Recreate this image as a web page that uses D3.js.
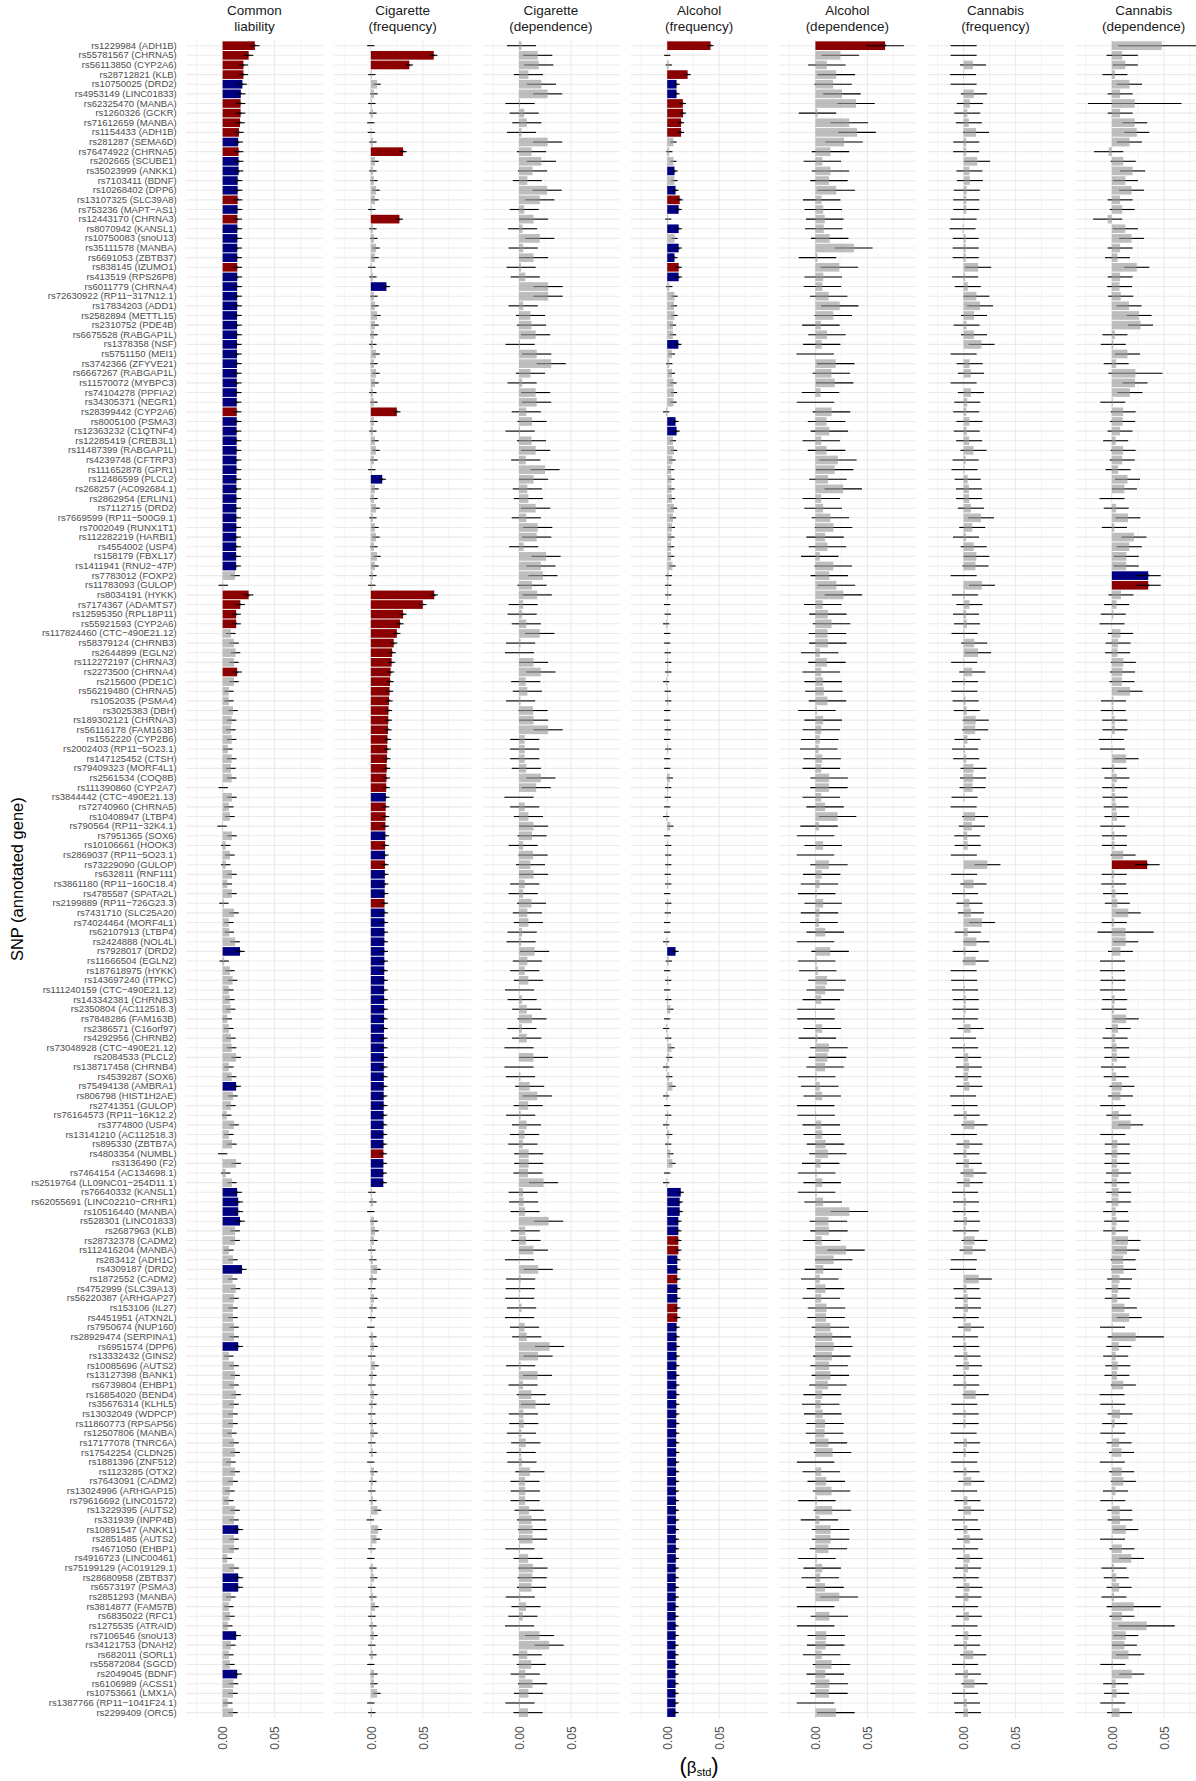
<!DOCTYPE html>
<html>
<head>
<meta charset="utf-8">
<script src="https://cdn.jsdelivr.net/npm/d3@7"></script>
<style>
  body { margin: 0; background: #fff; }
  text { font-family: "Liberation Sans", Arial, Helvetica, sans-serif; }
</style>
</head>
<body>
<div class="chart"></div>
<script>
// SNP labels, top to bottom
const snps = [
  "rs1229984 (ADH1B)", "rs55781567 (CHRNA5)", "rs56113850 (CYP2A6)", "rs28712821 (KLB)", "rs10750025 (DRD2)", "rs4953149 (LINC01833)", "rs62325470 (MANBA)", "rs1260326 (GCKR)", "rs71612659 (MANBA)", "rs1154433 (ADH1B)",
  "rs281287 (SEMA6D)", "rs76474922 (CHRNA5)", "rs202665 (SCUBE1)", "rs35023999 (ANKK1)", "rs7103411 (BDNF)", "rs10268402 (DPP6)", "rs13107325 (SLC39A8)", "rs753236 (MAPT−AS1)", "rs12443170 (CHRNA3)", "rs8070942 (KANSL1)",
  "rs10750083 (snoU13)", "rs35111578 (MANBA)", "rs6691053 (ZBTB37)", "rs838145 (IZUMO1)", "rs413519 (RPS26P8)", "rs6011779 (CHRNA4)", "rs72630922 (RP11−317N12.1)", "rs17834203 (ADD1)", "rs2582894 (METTL15)", "rs2310752 (PDE4B)",
  "rs6675528 (RABGAP1L)", "rs1378358 (NSF)", "rs5751150 (MEI1)", "rs3742366 (ZFYVE21)", "rs6667267 (RABGAP1L)", "rs11570072 (MYBPC3)", "rs74104278 (PPFIA2)", "rs34305371 (NEGR1)", "rs28399442 (CYP2A6)", "rs8005100 (PSMA3)",
  "rs12363232 (C1QTNF4)", "rs12285419 (CREB3L1)", "rs11487399 (RABGAP1L)", "rs4239748 (CFTRP3)", "rs111652878 (GPR1)", "rs12486599 (PLCL2)", "rs268257 (AC092684.1)", "rs2862954 (ERLIN1)", "rs7112715 (DRD2)", "rs7669599 (RP11−500G9.1)",
  "rs7002049 (RUNX1T1)", "rs112282219 (HARBI1)", "rs4554002 (USP4)", "rs158179 (FBXL17)", "rs1411941 (RNU2−47P)", "rs7783012 (FOXP2)", "rs11783093 (GULOP)", "rs8034191 (HYKK)", "rs7174367 (ADAMTS7)", "rs12595350 (RPL18P11)",
  "rs55921593 (CYP2A6)", "rs117824460 (CTC−490E21.12)", "rs58379124 (CHRNB3)", "rs2644899 (EGLN2)", "rs112272197 (CHRNA3)", "rs2273500 (CHRNA4)", "rs215600 (PDE1C)", "rs56219480 (CHRNA5)", "rs1052035 (PSMA4)", "rs3025383 (DBH)",
  "rs189302121 (CHRNA3)", "rs56116178 (FAM163B)", "rs1552220 (CYP2B6)", "rs2002403 (RP11−5O23.1)", "rs147125452 (CTSH)", "rs79409323 (MORF4L1)", "rs2561534 (COQ8B)", "rs111390860 (CYP2A7)", "rs3844442 (CTC−490E21.13)", "rs72740960 (CHRNA5)",
  "rs10408947 (LTBP4)", "rs790564 (RP11−32K4.1)", "rs7951365 (SOX6)", "rs10106661 (HOOK3)", "rs2869037 (RP11−5O23.1)", "rs73229090 (GULOP)", "rs632811 (RNF111)", "rs3861180 (RP11−160C18.4)", "rs4785587 (SPATA2L)", "rs2199889 (RP11−726G23.3)",
  "rs7431710 (SLC25A20)", "rs74024464 (MORF4L1)", "rs62107913 (LTBP4)", "rs2424888 (NOL4L)", "rs7928017 (DRD2)", "rs11666504 (EGLN2)", "rs187618975 (HYKK)", "rs143697240 (ITPKC)", "rs111240159 (CTC−490E21.12)", "rs143342381 (CHRNB3)",
  "rs2350804 (AC112518.3)", "rs7848286 (FAM163B)", "rs2386571 (C16orf97)", "rs4292956 (CHRNB2)", "rs73048928 (CTC−490E21.12)", "rs2084533 (PLCL2)", "rs138717458 (CHRNB4)", "rs4539287 (SOX6)", "rs75494138 (AMBRA1)", "rs806798 (HIST1H2AE)",
  "rs2741351 (GULOP)", "rs76164573 (RP11−16K12.2)", "rs3774800 (USP4)", "rs13141210 (AC112518.3)", "rs895330 (ZBTB7A)", "rs4803354 (NUMBL)", "rs3136490 (F2)", "rs7464154 (AC134698.1)", "rs2519764 (LL09NC01−254D11.1)", "rs76640332 (KANSL1)",
  "rs62055691 (LINC02210−CRHR1)", "rs10516440 (MANBA)", "rs528301 (LINC01833)", "rs2687963 (KLB)", "rs28732378 (CADM2)", "rs112416204 (MANBA)", "rs283412 (ADH1C)", "rs4309187 (DRD2)", "rs1872552 (CADM2)", "rs4752999 (SLC39A13)",
  "rs56220387 (ARHGAP27)", "rs153106 (IL27)", "rs4451951 (ATXN2L)", "rs7950674 (NUP160)", "rs28929474 (SERPINA1)", "rs6951574 (DPP6)", "rs13332432 (GINS2)", "rs10085696 (AUTS2)", "rs13127398 (BANK1)", "rs6739804 (EHBP1)",
  "rs16854020 (BEND4)", "rs35676314 (KLHL5)", "rs13032049 (WDPCP)", "rs11860773 (RPSAP56)", "rs12507806 (MANBA)", "rs17177078 (TNRC6A)", "rs17542254 (CLDN25)", "rs1881396 (ZNF512)", "rs1123285 (OTX2)", "rs7643091 (CADM2)",
  "rs13024996 (ARHGAP15)", "rs79616692 (LINC01572)", "rs13229395 (AUTS2)", "rs331939 (INPP4B)", "rs10891547 (ANKK1)", "rs2851485 (AUTS2)", "rs4671050 (EHBP1)", "rs4916723 (LINC00461)", "rs75199129 (AC019129.1)", "rs28680958 (ZBTB37)",
  "rs6573197 (PSMA3)", "rs2851293 (MANBA)", "rs3814877 (FAM57B)", "rs6835022 (RFC1)", "rs1275535 (ATRAID)", "rs7106546 (snoU13)", "rs34121753 (DNAH2)", "rs682011 (SORL1)", "rs55872084 (SGCD)", "rs2049045 (BDNF)",
  "rs6106989 (ACSS1)", "rs10753661 (LMX1A)", "rs1387766 (RP11−1041F24.1)", "rs2299409 (ORC5)"
];

// facet titles
const stripLines = [
  ["Common", "liability"], ["Cigarette", "(frequency)"], ["Cigarette", "(dependence)"],
  ["Alcohol", "(frequency)"], ["Alcohol", "(dependence)"], ["Cannabis", "(frequency)"], ["Cannabis", "(dependence)"]
];

// standardised betas, x 1000, one value per SNP
const commonLiability = [
  31, 25, 20, 20, 19, 17.5, 17.3, 17.3, 16.7, 15.7,
  15, 15.4, 15.4, 15.4, 14.5, 14.5, 14.5, 14.4, 14.2, 14.2,
  14.2, 14.1, 14.1, 14.1, 14.1, 14.0, 14.0, 14.0, 13.9, 13.9,
  13.9, 13.8, 13.8, 13.8, 13.7, 13.7, 13.7, 13.6, 13.6, 13.6,
  13.5, 13.5, 13.5, 13.4, 13.4, 13.3, 13.3, 13.3, 13.2, 13.2,
  13.2, 13.1, 13.1, 13.0, 13.0, 12, 0.6, 25, 17, 13,
  13, 8, 11, 12.5, 11, 14, 11, 6, 6, 10,
  8.7, 8, 8.7, 5, 8.7, 8, 8.7, 0.5, 9, 6,
  7, -0.5, 9, 3, 7, 3, 9, 4.5, 9, 1.2,
  11, 6, 6.5, 12, 16.7, 1.5, 7, 9.6, 6, 7,
  7.7, 4.5, 6, 8, 8.7, 13, 6, 8.7, 13, 10,
  8, 4, 11, 6, 9, 0, 13, 3, 9, 14,
  15, 15, 16.7, 12, 12, 6, 10, 18.6, 9.6, 12.5,
  11, 10, 10, 11, 11, 15, 6, 11, 12, 11,
  13, 11, 10, 10, 9, 11, 12, 8, 12, 10,
  7, 6, 12, 11, 15, 11, 11, 4.5, 11, 15,
  15, 8, 6, 7, 5, 13, 8, 6, 7, 14,
  10.5, 10, 5, 10
];
const cigFrequency = [
  0, 60.5, 37, 1, 6, 3, 1, 2, 0, 0.5,
  2, 31, 4, 2, 3, 5, 4, 1, 27.5, 2,
  3, 5, 4, 1, 2, 15, 3, 4, 6, 4,
  3, 2, 5, 3, 5, 4, 2, 3, 25, 3,
  2, 4, 5, 3, 1, 11, 4, 3, 5, 2,
  4, 5, 3, 6, 4, 2, 1, 61, 50, 31,
  28, 25, 22, 20.5, 20, 19, 18.5, 18, 17.5, 17,
  16.8, 16.5, 16, 15.8, 15.5, 15.3, 15, 14.8, 14.5, 14.3,
  14.2, 14, 14, 13.8, 13.7, 13.6, 13.5, 13.4, 13.3, 13.2,
  13.2, 13.1, 13.1, 13, 13, 13, 12.9, 12.9, 12.8, 12.8,
  12.8, 12.7, 12.7, 12.6, 12.6, 12.6, 12.5, 12.5, 12.5, 12.4,
  12.4, 12.3, 12.3, 12.2, 12.2, 12.1, 12.1, 12, 12, 1,
  2, 0, 3, 4, 3, 1, 2, 6, 2, 1,
  3, 2, 1, 0, 2, 3, 1, 4, 2, 1,
  3, 2, 1, 2, 3, 1, 2, 0, 3, 2,
  1, 2, 6.5, -0.5, 7, 5.5, 1, 0, 2, 3,
  1, 2, 4, 1, 2, 3, 1, 2, 0, 3,
  3, 6, 0, 1
];
const cigDependence = [
  2.4, 18, 19, 9, 21.5, 27.5, 1, 5, 7.5, 2.4,
  27.5, 12, 21.5, 13, 8, 27, 20, 5, 14, 3.5,
  20, 4, 14, 2, 6, 28, 28, 4, 11, 12,
  16, 1, 17, 31, 11, 3, 16, 17, 7, 12.5,
  1, 12, 16, 6.5, 25, 14, 8, 9, 16, 7,
  18, 17, 4.5, 26, 21, 23, 12.5, 17.5, 4, 3,
  7, 20, 1.5, 0.5, 14, 21, 6.5, 8, 1.5, 13.5,
  14, 28, 5.5, 5.5, 5.5, 7, 21, 16.5, 0, 5.5,
  9, 14, 12.5, 4, 13.5, 11, 14, 5.5, 4, 12,
  8, 9, 3, 2, 15, 8, 5.5, 9, 0.5, 3,
  7.4, 12.5, 2.8, 7.4, 0, 13.9, 0, 1.4, 10.2, 17.6,
  8.8, 1.6, 7.2, 5.3, 3.7, 9.3, 9.3, 8.6, 23.6, 3.9,
  4.4, 5.8, 28.5, 6, 6.7, 13.9, 0.5, 18.5, 1.6, 1.2,
  0.7, 2.5, 0.5, 5.3, 7.4, 29.4, 18.3, 1.6, 17.8, 3.9,
  11.8, 15.8, 4.2, 4.6, 2.3, 6.5, 2.1, 2.8, 10.4, 5.8,
  6, 5.8, 9.7, 12, 13, 13, 0.9, 8.8, 13.4, 12.7,
  12, 1.2, 6.7, 3.7, 0.5, 19.7, 29, 7.9, 11.8, 6,
  13, 9, 0.9, 8.6
];
const alcFrequency = [
  41.6, 0, 1.5, 19.6, 9, 9, 15, 15.2, 13.3, 13.3,
  6, 2, 6, 7, 7, 8, 12, 11, 1, 11,
  7, 11, 7, 11, 11, 2, 7, 6.5, 7, 5.5,
  5.5, 10.7, 4.5, 2, 4.5, 6, 6.5, 6, -1, 8,
  9, 5.5, 6.5, 5, 3.7, 4, 4, 4.5, 6.5, 5.5,
  4.5, 4, 3.7, 3.7, 5, 1.5, 1, 1, 0, 0.5,
  -1, 0, 0, 0.5, 1, 1, -1, 0.5, 1, 0,
  0, 0.5, 0, 1, 0, 0, 2.5, 1, 0.5, 0,
  -1, 3, 0, 1, 1, 1, 0.5, 1, 0, 1,
  0.5, 0, 0, -1, 8, 1.5, 0, 1, 0, 1,
  3, 0, -1, 1, 4, 2, -1, 2, 5, -1,
  0, 1, -1, 2, 1, 3, 5, 0, -1, 13,
  12, 12, 10.7, 10.7, 10.7, 10.7, 9.7, 9.7, 9.7, 9.7,
  9.7, 9.7, 9.7, 9, 9, 9, 9, 8.8, 8.8, 8.8,
  8.8, 8.7, 8.7, 8.7, 8.6, 8.6, 8.6, 8.5, 8.5, 8.5,
  8.4, 8.4, 8.4, 8.4, 8.3, 8.3, 8.3, 8.3, 8.2, 8.2,
  8.2, 8.2, 8.1, 8.1, 8.1, 8.1, 8, 8, 8, 8,
  8, 8, 8, 8
];
const alcDependence = [
  67, 24, 11, 20, 17, 25.5, 39, 2, 32.5, 40,
  27.5, 14.5, 6.7, 14.5, 13, 20, 6, 7.5, 9, 8,
  13.7, 37, 2, 23, 7.5, 6.7, 12.7, 23.4, 17.2, 5.3,
  11.1, 6, -0.2, 19.5, 15.3, 18.5, 4.9, 0, 15.5, 10.7,
  13.4, 5.6, 10.7, 21.6, 18.5, 12, 26.7, 5.6, 7.4, 14.4,
  17.4, 9.3, 11.6, 4.2, 17.2, 13.4, 20.2, 26.9, 7, 12,
  15.5, 11.6, 12, 4.2, 11.1, 5.6, 7.4, 8.1, 11.6, 1.4,
  7.4, 5.6, 4.2, 3.2, 6.5, 5.6, 13.2, 13, 5.6, 9.3,
  21.3, 3.5, 0.2, 7.4, 0, 13, 6, 3.9, 1.2, 7.4,
  3.9, 3.5, 9.5, 0, 14.1, 1.2, 2.3, 11.1, 9.5, 5.6,
  0.5, 0.5, 6.5, 1.9, 13, 11.6, 9.3, 1.2, 4.2, 6.5,
  0.2, 0.7, 5.6, 6.5, 9.7, 12, 5.1, 1.2, 6.5, 1.2,
  7.4, 32.7, 12.5, 13, 6, 29.4, 17.6, 7.6, 4.2, 9.7,
  5.6, 10.7, 10.2, 14.4, 16.2, 17.6, 15.8, 13.2, 14.4, 12,
  6.5, 5.1, 7, 9.3, 8.8, 12.5, 16.5, 0.2, 5.6, 10.4,
  15.5, 1.4, 16.2, 3.9, 14.6, 14.6, 12.5, 1.4, 6.5, 4.6,
  9.3, 22.9, 0.2, 13.4, 0.2, 10.4, 9.9, 6, 15.5, 9.5,
  13.4, 13, 0, 19.7
];
const canFrequency = [
  0, 0, 9, -0.5, 0, 9.8, 6, 3.5, 5, 12,
  2.5, 2.5, 13, 5.5, 6, 3, 2.5, 2.5, 0, -1,
  2, 2, 2, 14, 1.5, 4, 12.3, 15.8, 10, 2.8,
  10, 17.2, 0, 5.8, 7, 0, 7, 3.5, 2.5, 5.6,
  3, 5.3, 9.5, 1.9, 0.9, 3.9, 5.1, 5.3, 7, 16.7,
  8.3, 2.3, 9.7, 12.3, 11.4, 0, 17.6, 1.2, 5.6, 2.3,
  3.2, 0.9, 10.2, 13.9, 0.5, 8.3, 1.4, 0.7, 1.9, 3,
  11.6, 11.1, 3.7, 1.4, 2.5, 9.5, 9, 8.6, 0.9, 0,
  11.1, 7.9, 3.5, 3.9, 0.2, 22.9, 0.5, 9.5, 1.4, 5.6,
  7, 17.6, 4, 12.3, 1.9, 11.6, 0, 0.5, 1.4, 2.1,
  1.9, 1.2, 6.7, -0.5, 1.4, 4.4, 5.1, 4.4, 5.6, -0.5,
  0.9, 3, 10.4, 0.2, 5.6, 2.8, 5.1, 9.5, 6, 1.4,
  2.3, 1.9, 3.2, 2.1, 10.4, 8.6, 0.2, -0.5, 14.6, 2.8,
  3.9, 4.2, 2.1, 7, 1.4, 2.5, 3.7, 5.1, 2.1, 2.5,
  11.6, 0.7, 1.9, 1.9, 0, 3.2, 2.1, 0.5, 2.8, 7.4,
  0.5, 3.7, 7, 1.2, 3.7, 6, 1.4, 5.8, 4.2, 2.1,
  5.6, 4.6, 1.4, 5.1, 0.9, 4.6, 3.2, 9.3, 1.4, 4.2,
  10.4, 1.4, 3.2, 4.2
];
const canDependence = [
  48, 10, 13, 3, 17, 8, 22, 8, 22, 24,
  17, -3, 11, 20, 13, 19, 8, 10, -4, 13,
  19, 8, 5.5, 24, 8, 7.4, 8.6, 16.5, 26.2, 27.6,
  3, 1.4, 15.1, 4.2, 22.7, 22.3, 17.4, 0.9, 10.9, 10.4,
  7.9, 3.7, 10.9, 10, 6, 15.1, 12.1, 0.2, 4.2, 15.5,
  2.5, 21.3, 16.7, 13.9, 13.9, 35, 35, 8.8, 4.6, 1.4,
  0.2, 8.3, 6, 5.6, 11.1, 10.2, 9.7, 17.6, 1.6, 1.4,
  2.8, 3, -0.5, 0.5, 13.7, 2.3, 4.9, 2.8, 3.2, 4.2,
  4.9, 0.9, 2.5, 2.5, 10.9, 34, 2.3, 1.9, 3.5, 5.3,
  15.8, 2.3, 13.2, 13.4, 8.3, 0.7, 0.7, 1.2, 0.7, 2.8,
  2.1, 13.9, 6, 3.2, 4.6, 4.9, 1.6, 4.2, 9.7, 8.3,
  0.9, 6.7, 18.1, 0.9, 5.3, 5.3, 4.9, 6.5, 4.9, 6.5,
  6.3, 3.7, 4.6, 3.7, 15.5, 14.6, 10.9, 11.4, 7.4, 6,
  5.3, 12.1, 16.7, 0.7, 23, 6.7, 3.7, 5.8, 4.9, 11.1,
  0.2, 0.9, 7.9, 2.8, 0.9, 7, 9.3, 0.5, 9.5, 11.1,
  3.5, 0.9, 7.6, 7.9, 13.4, 0.7, 9.7, 18.8, 2.1, 4.2,
  7, 2.1, 21, 9.7, 33.5, 13.4, 12.1, 16, 0.9, 19.2,
  3.7, 4.6, 0.9, 7.4
];

// half width of the interval, x 1000, per panel; wider ones in cannabis dependence
const halfCI = [4.5, 3.5, 14, 3, 18, 12.5, 12];
const canDepWide = { 1: 42, 2: 15, 7: 45, 12: 14, 19: 14, 35: 26, 93: 27, 135: 27, 163: 26, 165: 27 };

// highlighted SNPs (row numbers, 1-based)
const commonRed = [1, 2, 3, 4, 7, 8, 9, 10, 12, 17, 19, 24, 39, 58, 59, 60, 61, 66];
const commonNavy = [5, 6, 11, 13, 14, 15, 16, 18, 20, 21, 22, 23, 25, 26, 27, 28, 29, 30, 31, 32, 33, 34, 35, 36, 37, 38,
  40, 41, 42, 43, 44, 45, 46, 47, 48, 49, 50, 51, 52, 53, 54, 55, 95, 109, 120, 121, 122, 123, 128, 136, 155, 160, 161, 166, 170];
const cigFreqRed = [2, 3, 12, 19, 39, 58, 59, 60, 61, 62, 63, 64, 65, 66, 67, 68, 69, 70, 71, 72, 73, 74, 75, 76, 77, 78,
  80, 81, 82, 84, 86, 90, 116];
const cigFreqNavy = [26, 46, 79, 83, 85, 87, 88, 89, 91, 92, 93, 94, 95, 96, 97, 98, 99, 100, 101, 102, 103, 104, 105, 106,
  107, 108, 109, 110, 111, 112, 113, 114, 115, 117, 118, 119];
const alcFreqRed = [1, 4, 7, 8, 9, 10, 17, 24, 125, 126, 129, 132, 133];
const alcFreqNavy = [5, 6, 14, 16, 18, 20, 22, 23, 25, 32, 40, 41, 95, 120, 121, 122, 123, 124, 127, 128, 130, 131,
  134, 135, 136, 137, 138, 139, 140, 141, 142, 143, 144, 145, 146, 147, 148, 149, 150, 151, 152, 153, 154,
  155, 156, 157, 158, 159, 160, 161, 162, 163, 164, 165, 166, 167, 168, 169, 170, 171, 172, 173, 174];
const alcDepRed = [1];
const canDepRed = [57, 86];
const canDepNavy = [56];

var cfg = {
  width: 1196,
  height: 1781,
  panelLeft: 186,
  panelWidth: 137,
  panelStep: 148.2,
  top: 39.9,
  bottom: 1718.4
};

const colors = { red: "#8b0000", navy: "#000080", grey: "#999999" };

const series = [commonLiability, cigFrequency, cigDependence, alcFrequency, alcDependence, canFrequency, canDependence];
const reds = [commonRed, cigFreqRed, [], alcFreqRed, alcDepRed, [], canDepRed];
const navies = [commonNavy, cigFreqNavy, [], alcFreqNavy, [], [], canDepNavy];

var x = d3.scaleLinear()
    .domain([-0.0352, 0.0965])
    .range([0, cfg.panelWidth]);

var y = d3.scaleBand()
    .domain(snps)
    .range([cfg.top, cfg.bottom])
    .paddingInner(0)
    .paddingOuter(0.1);

const yc = d => y(d) + y.bandwidth() / 2;
const barH = y.bandwidth() * 0.9;

function panelRows(p) {
  return snps.map((s, i) => {
    const n = i + 1;
    let kind = "grey";
    if (reds[p].includes(n)) kind = "red";
    else if (navies[p].includes(n)) kind = "navy";
    let half = halfCI[p];
    if (p === 6 && canDepWide[n]) half = canDepWide[n];
    return { snp: s, beta: series[p][i] / 1000, half: half / 1000, kind: kind };
  });
}

var svg = d3.select(".chart").append("svg")
    .attr("width", cfg.width)
    .attr("height", cfg.height)
    .style("background", "#fff");

function drawPanel(p) {
  var left = cfg.panelLeft + p * cfg.panelStep;
  var g = svg.append("g").attr("transform", `translate(${left},0)`);
  var rows = panelRows(p);

  // grid lines
  g.selectAll(".hgrid").data(snps).enter().append("line")
    .attr("x1", 0).attr("x2", cfg.panelWidth)
    .attr("y1", d => yc(d)).attr("y2", d => yc(d))
    .attr("stroke", "#ebebeb").attr("stroke-width", 1.1);
  g.selectAll(".vminor").data([-0.025, 0.025, 0.075]).enter().append("line")
    .attr("x1", d => x(d)).attr("x2", d => x(d))
    .attr("y1", cfg.top).attr("y2", cfg.bottom)
    .attr("stroke", "#ebebeb").attr("stroke-width", 0.6);
  g.selectAll(".vmajor").data([0, 0.05]).enter().append("line")
    .attr("x1", d => x(d)).attr("x2", d => x(d))
    .attr("y1", cfg.top).attr("y2", cfg.bottom)
    .attr("stroke", "#ebebeb").attr("stroke-width", 1.1);

  var sig = rows.filter(d => d.kind !== "grey");
  var ns = rows.filter(d => d.kind === "grey");

  // highlighted bars sit under the intervals
  g.selectAll(".sig").data(sig).enter().append("rect")
    .attr("x", d => x(Math.min(0, d.beta)))
    .attr("width", d => Math.abs(x(d.beta) - x(0)))
    .attr("y", d => yc(d.snp) - barH / 2)
    .attr("height", barH)
    .attr("fill", d => colors[d.kind]);

  g.selectAll(".ci").data(rows).enter().append("line")
    .attr("x1", d => x(d.beta - d.half))
    .attr("x2", d => x(d.beta + d.half))
    .attr("y1", d => yc(d.snp)).attr("y2", d => yc(d.snp))
    .attr("stroke", "#000").attr("stroke-width", 1.1);

  // grey bars are translucent and drawn on top
  g.selectAll(".ns").data(ns).enter().append("rect")
    .attr("x", d => x(Math.min(0, d.beta)))
    .attr("width", d => Math.abs(x(d.beta) - x(0)))
    .attr("y", d => yc(d.snp) - barH / 2)
    .attr("height", barH)
    .attr("fill", colors.grey)
    .attr("fill-opacity", 0.64);

  g.selectAll(".star").data(sig).enter().append("text")
    .attr("x", d => x(d.beta))
    .attr("y", d => yc(d.snp) + 3.6)
    .attr("text-anchor", "middle")
    .style("font-size", "8px")
    .attr("fill", "#000")
    .text("*");

  // facet title
  var strip = svg.append("text")
    .attr("text-anchor", "middle")
    .attr("fill", "#1a1a1a")
    .style("font-size", "13.5px");
  strip.append("tspan").attr("x", left + cfg.panelWidth / 2).attr("y", 14.5).text(stripLines[p][0]);
  strip.append("tspan").attr("x", left + cfg.panelWidth / 2).attr("y", 31).text(stripLines[p][1]);

  // x axis ticks
  var ax = svg.append("g")
    .attr("transform", `translate(${left},${cfg.bottom})`)
    .call(d3.axisBottom(x).tickValues([0, 0.05]).tickFormat(d3.format(".2f")).tickSize(0));
  ax.select(".domain").remove();
  ax.selectAll("text")
    .attr("transform", "rotate(-90)")
    .attr("x", -8)
    .attr("y", 0)
    .attr("dy", "0.35em")
    .attr("text-anchor", "end")
    .attr("fill", "#4d4d4d")
    .style("font-size", "12px")
    .style("font-family", "Liberation Sans, Arial, sans-serif");
}

for (let p = 0; p < series.length; p++) drawPanel(p);

// y axis labels
var yAxis = svg.append("g")
  .attr("transform", `translate(${cfg.panelLeft},0)`)
  .call(d3.axisLeft(y).tickSize(0).tickPadding(9.3));
yAxis.select(".domain").remove();
yAxis.selectAll("text")
  .attr("fill", "#4d4d4d")
  .style("font-size", "9.5px")
  .style("font-family", "Liberation Sans, Arial, sans-serif");

// axis titles
svg.append("text")
  .attr("transform", `translate(17,${(cfg.top + cfg.bottom) / 2}) rotate(-90)`)
  .attr("text-anchor", "middle")
  .attr("dy", "0.35em")
  .style("font-size", "16.5px")
  .attr("fill", "#000")
  .text("SNP (annotated gene)");

var xt = svg.append("text")
  .attr("x", cfg.panelLeft + (6 * cfg.panelStep + cfg.panelWidth) / 2)
  .attr("y", 1773)
  .attr("text-anchor", "middle")
  .attr("fill", "#000");
xt.append("tspan").style("font-size", "22px").text("(");
xt.append("tspan").style("font-size", "17px").text("β");
xt.append("tspan").style("font-size", "11px").attr("dy", 3).text("std");
xt.append("tspan").style("font-size", "22px").attr("dy", -3).text(")");
</script>
</body>
</html>
